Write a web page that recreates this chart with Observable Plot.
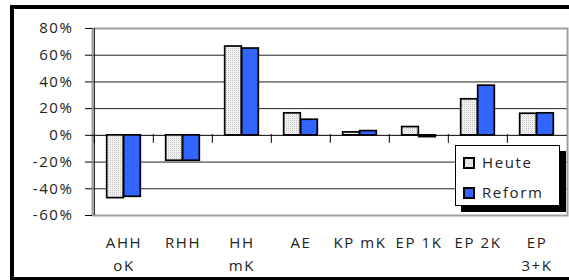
<!DOCTYPE html>
<html><head><meta charset="utf-8">
<script src="https://cdn.jsdelivr.net/npm/d3@7"></script>
<script src="https://cdn.jsdelivr.net/npm/@observablehq/plot@0.6"></script>
<style>
body{margin:0;background:#fff;}
#wrap{position:relative;width:569px;height:280px;overflow:hidden;font-family:"Open Sans",sans-serif;}
#border{position:absolute;left:10px;top:5px;width:600px;height:268px;border:4px solid #000;}
#chart{position:absolute;left:0;top:0;}
#legend{position:absolute;left:455px;top:145px;width:103px;height:59px;border:1px solid #000;background:#fff;box-shadow:6px 6px 0 #000;}
.item{position:absolute;left:7px;font-size:15px;letter-spacing:1.6px;color:#222;line-height:20px;}
.sw{position:absolute;left:0;top:5px;width:8px;height:8px;border:2px solid #000;}
.item span.t{position:absolute;left:19px;top:0;white-space:nowrap;}
</style></head>
<body>
<div id="wrap">
  <div id="border"></div>
  <div id="chart"></div>
  <div id="legend"></div>
</div>
<script>
const categories = ["AHH oK","RHH","HH mK","AE","KP mK","EP 1K","EP 2K","EP 3+K"];
const tickLabels = ["AHH\noK","RHH","HH\nmK","AE","KP mK","EP 1K","EP 2K","EP\n3+K"];
const series = ["Heute","Reform"];
const heute = [-0.47,-0.19,0.665,0.165,0.022,0.062,0.27,0.162];
const reform = [-0.46,-0.19,0.65,0.117,0.032,-0.013,0.372,0.165];
const yTicks = [-0.6,-0.4,-0.2,0,0.2,0.4,0.6,0.8];
const gridValues = [-0.4,-0.2,0.2,0.4,0.6];
const colors = {Heute: "url(#dots)", Reform: "#3366FF"};

const W = 569, H = 280, mL = 92, mR = 2, mT = 28, mB = 65;
const bw = (W - mL - mR) / categories.length;
const barW = 17, group = 2 * barW, side = (bw - group) / 2;

const data = [];
categories.forEach((c, i) => {
  data.push({cat: c, series: "Heute", value: heute[i]});
  data.push({cat: c, series: "Reform", value: reform[i]});
});
const labelOf = new Map(categories.map((c, i) => [c, tickLabels[i]]));

const plot = Plot.plot({
  width: W, height: H,
  marginLeft: mL, marginRight: mR, marginTop: mT, marginBottom: mB,
  style: {fontFamily: "'Open Sans', sans-serif", fontSize: "15px", color: "#222", background: "transparent", letterSpacing: "1.6px"},
  x: {domain: categories, padding: 0, label: null},
  y: {domain: [-0.6, 0.8], label: null},
  marks: [
    Plot.ruleY(gridValues, {stroke: "#222", strokeWidth: 1}),
    Plot.frame({stroke: "#a0a0a0", strokeWidth: 2}),
    Plot.ruleY([0], {stroke: "#000", strokeWidth: 1}),
    Plot.barY(data.filter(d => d.series === "Heute"), {x: "cat", y: "value", fill: colors.Heute, stroke: "#000", strokeWidth: 1.7, insetLeft: side, insetRight: side + barW}),
    Plot.barY(data.filter(d => d.series === "Reform"), {x: "cat", y: "value", fill: colors.Reform, stroke: "#000", strokeWidth: 1.7, insetLeft: side + barW, insetRight: side}),
    Plot.ruleX(categories, {x: d => d, y1: 0.006, y2: -0.06, dx: -bw / 2, stroke: "#000"}),
    Plot.ruleX([categories[0]], {x: d => d, y1: -0.6, y2: 0.8, dx: -bw / 2, stroke: "#000"}),
    Plot.axisY({ticks: yTicks, tickSize: 7, tickPadding: 12, stroke: "#000", label: null, tickFormat: d => Math.round(d * 100) + "%"}),
    Plot.axisX({tickSize: 0, tickPadding: 17, lineHeight: 1.5, label: null, tickFormat: d => labelOf.get(d)})
  ]
});

d3.select(plot).insert("defs", ":first-child").html(
  '<pattern id="dots" width="2" height="2" patternUnits="userSpaceOnUse">' +
  '<rect width="2" height="2" fill="#f2f2f2"/><rect width="1" height="1" fill="#c4c4c4"/></pattern>');
document.getElementById("chart").appendChild(plot);

const legend = d3.select("#legend");
series.forEach((s, i) => {
  const item = legend.append("div").attr("class", "item").style("top", (6 + i * 30) + "px");
  item.append("div").attr("class", "sw")
    .style("background", s === "Heute" ? "#e4e4e4" : colors.Reform);
  item.append("span").attr("class", "t").text(s);
});
</script>
</body></html>
